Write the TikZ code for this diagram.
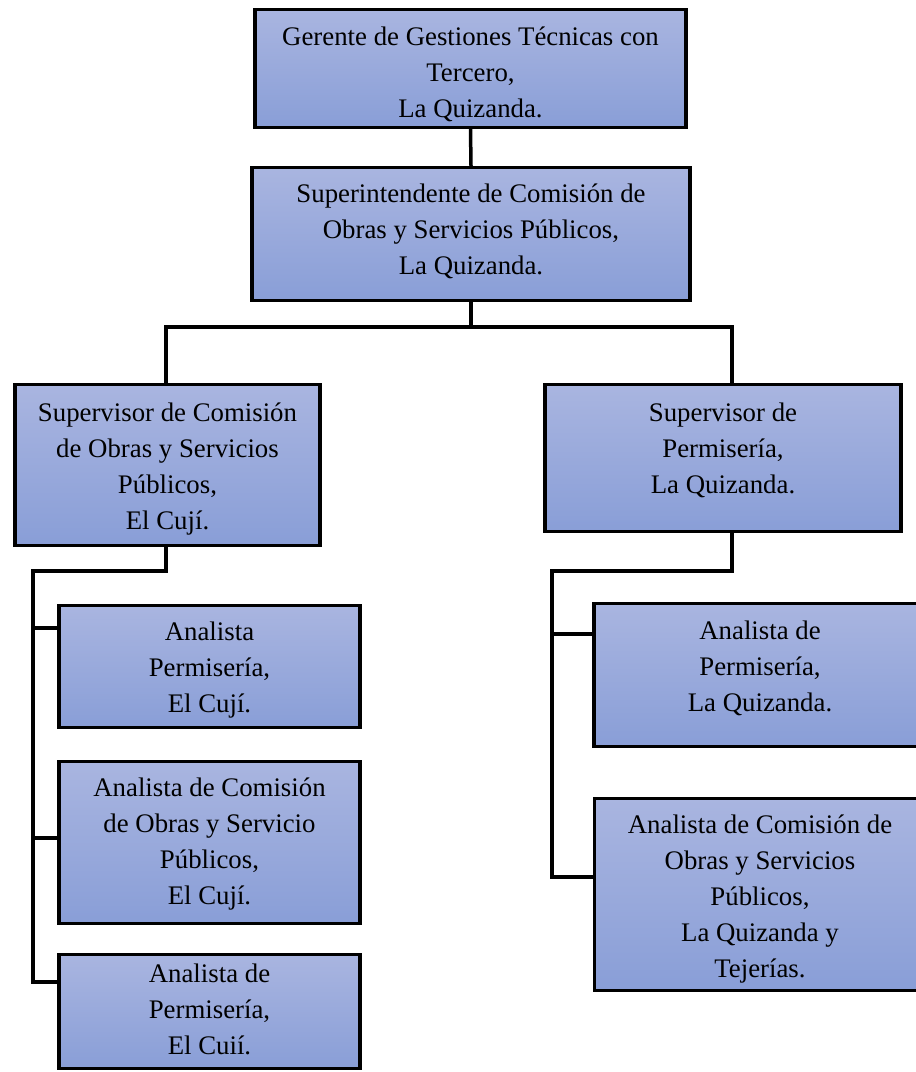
\documentclass[tikz,border=0pt]{standalone}
\usepackage{fontspec}
\setmainfont{Liberation Serif}
\definecolor{boxtop}{RGB}{169,181,224}
\definecolor{boxbot}{RGB}{137,158,215}
\tikzset{
  orgbox/.style={draw=black, line width=3.5pt, top color=boxtop, bottom color=boxbot,
    rectangle, inner sep=0pt},
  boxtext/.style={inner sep=0pt, align=center, font=\fontsize{26.8}{36}\selectfont},
  link/.style={draw=black, line width=3.5pt, line cap=rect}
}
\begin{document}
\begin{tikzpicture}[x=1pt,y=-1pt]
\useasboundingbox (0,0) rectangle (916,1072);
\clip (0,0) rectangle (916,1072);

% junction points of the connector lines
\coordinate (busL) at (166,327);
\coordinate (busR) at (732,327);
\coordinate (lk) at (166,571);
\coordinate (lx) at (33,571);
\coordinate (rk) at (732,571);
\coordinate (rx) at (552,571);
\coordinate (lb1) at (33,628);
\coordinate (lb2) at (33,838);
\coordinate (lb3) at (33,982);
\coordinate (rb1) at (552,634);
\coordinate (rb2) at (552,877);

% boxes
\node[orgbox, minimum width=431pt, minimum height=118pt] (g) at (470.5,68.5) {};
\node[orgbox, minimum width=438pt, minimum height=133pt] (s) at (471,234) {};
\node[orgbox, minimum width=305pt, minimum height=161pt] (sl) at (167.5,465) {};
\node[orgbox, minimum width=356pt, minimum height=147pt] (sr) at (723,458) {};
\node[orgbox, minimum width=301pt, minimum height=122pt] (l1) at (209.5,666.5) {};
\node[orgbox, minimum width=301pt, minimum height=162pt] (l2) at (209.5,842.5) {};
\node[orgbox, minimum width=301pt, minimum height=114pt] (l3) at (209.5,1011.5) {};
\node[orgbox, minimum width=332pt, minimum height=143pt] (r1) at (760,675) {};
\node[orgbox, minimum width=331pt, minimum height=192pt] (r2) at (760,894.5) {};

% box texts
\node[boxtext] (gt) at (470.5,74) {Gerente de Gestiones Técnicas con\\Tercero,\\La Quizanda.};
\node[boxtext] (st) at (471,231) {Superintendente de Comisión de\\Obras y Servicios Públicos,\\La Quizanda.};
\node[boxtext] (slt) at (167.5,469) {Supervisor de Comisión\\de Obras y Servicios\\Públicos,\\El Cují.};
\node[boxtext] (srt) at (723,450) {Supervisor de\\Permisería,\\La Quizanda.};
\node[boxtext] (l1t) at (209.5,670.5) {Analista\\Permisería,\\El Cují.};
\node[boxtext] (l2t) at (209.5,844.5) {Analista de Comisión\\de Obras y Servicio\\Públicos,\\El Cují.};
\node[boxtext] (l3t) at (209.5,1009.5) {Analista de\\Permisería,\\El Cuií.};
\node[boxtext] (r1t) at (760,668) {Analista de\\Permisería,\\La Quizanda.};
\node[boxtext] (r2t) at (760,899.5) {Analista de Comisión de\\Obras y Servicios\\Públicos,\\La Quizanda y\\Tejerías.};

% lines between levels
\draw[link] (g.south) -- (s.north);
\draw[link] (s.south) -- (s.south |- busL);
\draw[link] (busL |- sl.north) -- (busL) -- (busR) -- (busR |- sr.north);

\draw[link] (lk |- sl.south) -- (lk) -- (lx) -- (lb3) -- (lb3 -| l3.west);
\draw[link] (lb1) -- (lb1 -| l1.west);
\draw[link] (lb2) -- (lb2 -| l2.west);

\draw[link] (rk |- sr.south) -- (rk) -- (rx) -- (rb2) -- (rb2 -| r2.west);
\draw[link] (rb1) -- (rb1 -| r1.west);
\end{tikzpicture}
\end{document}
